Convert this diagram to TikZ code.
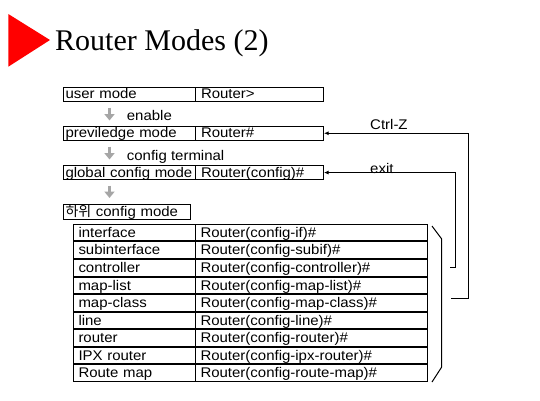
\documentclass[tikz,border=0pt]{standalone}
\usepackage{fontspec}
\setmainfont{Liberation Sans}[FakeStretch=1.07]
\newfontfamily\titlefont{Liberation Serif}
\newfontfamily\krfont{Noto Sans CJK KR}
\usetikzlibrary{arrows.meta}
\tikzset{
  cellbox/.style={draw, line width=1pt, anchor=north west, inner ysep=0pt, align=left,
    font=\fontsize{14}{14}\selectfont},
  topL/.style={cellbox, inner xsep=2pt, text width=128pt, text height=11.8pt, text depth=2.7pt},
  topR/.style={cellbox, inner xsep=5.5pt, text width=117pt, text height=11.8pt, text depth=2.7pt},
  subbox/.style={cellbox, inner xsep=2pt, text width=123pt, text height=12.5pt, text depth=3.3pt},
  tabL/.style={cellbox, inner xsep=5pt, text width=112pt, text height=13pt, text depth=3.5pt},
  tabR/.style={cellbox, inner xsep=5pt, text width=222pt, text height=13pt, text depth=3.5pt},
  lbl/.style={anchor=base west, inner sep=0pt, font=\fontsize{14}{14}\selectfont},
  garrow/.style={draw=black!35, line width=3pt, -{Triangle[width=10pt,length=6.5pt]}},
  conn/.style={draw, line width=1pt, -{Latex[length=4.5pt,width=4pt]}},
  plain/.style={draw, line width=1pt},
}
\begin{document}
\begin{tikzpicture}[x=1pt,y=-1pt]
\useasboundingbox[fill=white] (0,0) rectangle (540,400);
% title
\fill[red] (8.3,14) -- (50,40) -- (8.3,66.7) -- cycle;
\node[anchor=base west, inner sep=0pt, font=\titlefont\fontsize{30}{30}\selectfont] (title) at (55,50) {Router Modes (2)};
% top mode boxes
\node[topL] (userL) at (63,86.5) {user mode};
\node[topR] (userR) at (195,86.5) {Router>};
\node[topL] (prevL) at (63,125.5) {previledge mode};
\node[topR] (prevR) at (195,125.5) {Router\#};
\node[topL] (globL) at (63,164.8) {global config mode};
\node[topR] (globR) at (195,164.8) {Router(config)\#};
\node[subbox] (sub) at (63,203.5) {{\krfont 하위} config mode};
% grey arrows
\coordinate (a1s) at (109.5,107.5); \coordinate (a1e) at (109.5,120.5);
\coordinate (a2s) at (109.5,146.5); \coordinate (a2e) at (109.5,159.5);
\coordinate (a3s) at (109.5,185.5); \coordinate (a3e) at (109.5,198);
\draw[garrow] (a1s) -- (a1e);
\draw[garrow] (a2s) -- (a2e);
\draw[garrow] (a3s) -- (a3e);
\node[lbl] (en) at (126.7,120) {enable};
\node[lbl] (ct) at (126.7,160.5) {config terminal};
% table
\node[tabL] (r1L) at (73,223.5) {interface};
\node[tabR] (r1R) at (195,223.5) {Router(config-if)\#};
\node[tabL] (r2L) at (73,241) {subinterface};
\node[tabR] (r2R) at (195,241) {Router(config-subif)\#};
\node[tabL] (r3L) at (73,259.3) {controller};
\node[tabR] (r3R) at (195,259.3) {Router(config-controller)\#};
\node[tabL] (r4L) at (73,276.8) {map-list};
\node[tabR] (r4R) at (195,276.8) {Router(config-map-list)\#};
\node[tabL] (r5L) at (73,294.3) {map-class};
\node[tabR] (r5R) at (195,294.3) {Router(config-map-class)\#};
\node[tabL] (r6L) at (73,311.8) {line};
\node[tabR] (r6R) at (195,311.8) {Router(config-line)\#};
\node[tabL] (r7L) at (73,329.3) {router};
\node[tabR] (r7R) at (195,329.3) {Router(config-router)\#};
\node[tabL] (r8L) at (73,346.8) {IPX router};
\node[tabR] (r8R) at (195,346.8) {Router(config-ipx-router)\#};
\node[tabL] (r9L) at (73,364.3) {Route map};
\node[tabR] (r9R) at (195,364.3) {Router(config-route-map)\#};
% bracket
\coordinate (b1) at (432,226); \coordinate (b2) at (441.7,239);
\coordinate (b3) at (441.7,367); \coordinate (b4) at (432,382);
\draw[plain] (b1) -- (b2) -- (b3) -- (b4);
% return connectors
\coordinate (czs) at (451,298);
\coordinate (exs) at (450,267);
\draw[conn] (czs) -- (468,298) |- (prevR.east);
\draw[conn] (exs) -- (455.7,267) |- (globR.east);
\node[lbl] (czl) at (370,129) {Ctrl-Z};
\node[lbl] (exl) at (370,173.3) {exit};
\end{tikzpicture}
\end{document}
